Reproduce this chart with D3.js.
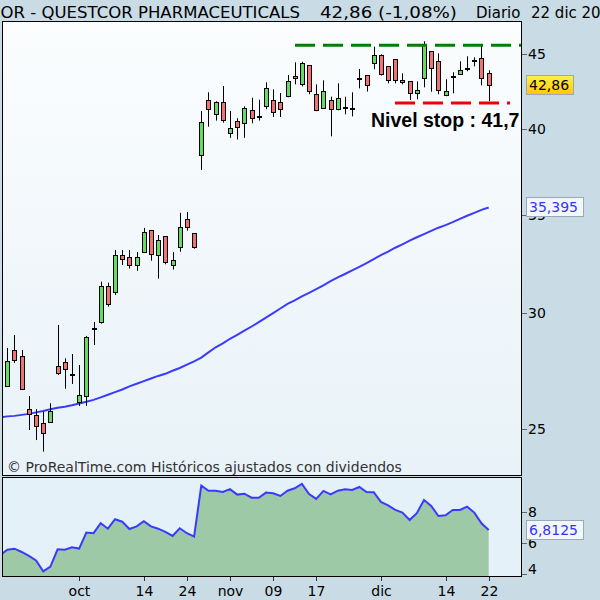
<!DOCTYPE html>
<html>
<head>
<meta charset="utf-8">
<script src="https://cdn.jsdelivr.net/npm/d3@7"></script>
<style>
body { margin: 0; background: #c9dbe5; }
svg text { font-family: "DejaVu Sans", Verdana, sans-serif; }
</style>
</head>
<body>
<script>
var w = 600;
var h = 600;

// trading days (first day only feeds the averages, its candle is off the left edge)
var dates = [
  "2011-09-16",
  "2011-09-19", "2011-09-20", "2011-09-21", "2011-09-22", "2011-09-23", "2011-09-26", "2011-09-27", "2011-09-28", "2011-09-29", "2011-09-30",
  "2011-10-03", "2011-10-04", "2011-10-05", "2011-10-06", "2011-10-07", "2011-10-10", "2011-10-11", "2011-10-12", "2011-10-13", "2011-10-14",
  "2011-10-17", "2011-10-18", "2011-10-19", "2011-10-20", "2011-10-21", "2011-10-24", "2011-10-25", "2011-10-26", "2011-10-27", "2011-10-28",
  "2011-10-31", "2011-11-01", "2011-11-02", "2011-11-03", "2011-11-04", "2011-11-07", "2011-11-08", "2011-11-09", "2011-11-10", "2011-11-11",
  "2011-11-14", "2011-11-15", "2011-11-16", "2011-11-17", "2011-11-18", "2011-11-21", "2011-11-22", "2011-11-23", "2011-11-25", "2011-11-28",
  "2011-11-29", "2011-11-30", "2011-12-01", "2011-12-02", "2011-12-05", "2011-12-06", "2011-12-07", "2011-12-08", "2011-12-09", "2011-12-12",
  "2011-12-13", "2011-12-14", "2011-12-15", "2011-12-16", "2011-12-19", "2011-12-20", "2011-12-21", "2011-12-22"
];

var open = [null,
  26.77, 28.31, 28.05, 25.80, 25.57, 25.24, 25.30, 27.59, 27.78, 27.25,
  26.10, 26.35, 29.32, 29.59, 31.30, 30.99, 32.84, 32.74, 32.31, 33.02,
  34.15, 32.82, 33.83, 32.31, 33.23, 34.75, 34.00, 38.39, 41.91, 40.96,
  41.74, 39.75, 40.52, 40.39, 41.22, 40.87, 41.46, 41.91, 41.74, 42.14,
  43.50, 42.93, 44.23, 42.27, 41.35, 41.91, 41.29, 41.42, 41.35, 43.36,
  43.54, 44.37, 44.95, 44.16, 44.65, 43.20, 43.13, 42.33, 43.34, 45.21,
  44.51, 42.20, 43.47, 43.61, 44.02, 44.58, 44.72, 43.70];
var high = [null,
  28.40, 28.98, 28.31, 26.34, 25.80, 25.70, 26.04, 29.44, 27.94, 28.13,
  27.65, 28.94, 29.58, 31.51, 31.46, 33.11, 33.11, 33.11, 33.01, 34.28,
  34.15, 33.90, 33.83, 33.00, 35.10, 35.15, 34.00, 41.18, 42.40, 41.81,
  42.82, 41.18, 40.71, 41.48, 42.04, 41.91, 43.07, 42.60, 42.35, 43.56,
  44.44, 44.48, 44.23, 42.93, 43.20, 42.11, 43.00, 42.11, 42.40, 43.98,
  43.54, 45.54, 45.00, 44.16, 44.65, 43.68, 43.13, 43.13, 45.93, 45.21,
  45.07, 43.27, 43.75, 44.51, 44.86, 44.79, 45.64, 43.89];
var low = [null,
  26.72, 27.74, 26.60, 24.97, 24.58, 24.14, 25.26, 27.22, 26.64, 26.84,
  25.93, 25.93, 28.53, 29.50, 30.30, 30.86, 32.34, 32.16, 32.05, 33.02,
  32.56, 31.66, 32.38, 32.11, 33.02, 34.13, 33.18, 37.54, 40.17, 40.56,
  40.43, 39.48, 39.38, 39.48, 40.39, 40.56, 41.29, 40.79, 40.79, 42.07,
  42.93, 42.79, 42.27, 41.16, 41.35, 39.57, 41.22, 40.96, 40.83, 42.66,
  42.45, 43.96, 43.53, 43.00, 43.00, 42.93, 41.89, 41.94, 42.73, 42.44,
  42.27, 42.14, 42.33, 43.61, 43.82, 44.16, 42.86, 41.81];
var close = [null,
  27.83, 27.86, 26.62, 25.60, 25.14, 24.86, 25.73, 27.27, 27.49, 27.25,
  26.37, 28.90, 29.32, 31.30, 30.44, 32.85, 32.61, 32.33, 32.74, 34.05,
  32.87, 33.62, 32.48, 32.58, 34.31, 34.31, 33.28, 40.45, 41.35, 41.74,
  40.56, 40.07, 40.13, 41.35, 40.71, 40.87, 42.66, 41.16, 41.28, 43.13,
  43.34, 44.37, 42.46, 41.22, 42.46, 41.35, 42.00, 41.42, 41.29, 43.36,
  42.86, 44.93, 43.63, 43.17, 43.20, 43.07, 42.33, 42.53, 45.64, 44.02,
  42.53, 42.46, 43.47, 43.89, 44.02, 44.58, 43.34, 42.86];

// 50 day moving average
var ma = [
  25.47, 25.51, 25.53, 25.57, 25.61, 25.67, 25.73, 25.80, 25.86, 25.90, 25.96,
  26.03, 26.10, 26.18, 26.28, 26.39, 26.50, 26.61, 26.74, 26.85, 26.96,
  27.07, 27.18, 27.27, 27.40, 27.52, 27.67, 27.81, 27.97, 28.20, 28.43,
  28.60, 28.81, 28.99, 29.18, 29.37, 29.57, 29.78, 29.99, 30.21, 30.43,
  30.60, 30.79, 30.96, 31.14, 31.33, 31.53, 31.72, 31.89, 32.07, 32.25,
  32.44, 32.64, 32.85, 33.03, 33.23, 33.41, 33.60, 33.78, 33.95, 34.12,
  34.29, 34.43, 34.59, 34.77, 34.94, 35.10, 35.26, 35.395];

// lower panel indicator
var ind = [
  5.20, 5.55, 5.61, 5.40, 5.15, 4.85, 4.15, 4.45, 5.57, 5.55, 5.70,
  5.62, 6.65, 6.61, 7.25, 6.90, 7.51, 7.35, 6.88, 7.05, 7.38,
  7.05, 6.90, 6.69, 6.43, 6.93, 6.61, 6.39, 9.68, 9.35, 9.34,
  9.27, 9.45, 9.10, 9.16, 8.90, 8.90, 9.23, 9.19, 9.01, 9.35,
  9.51, 9.79, 9.14, 8.82, 9.34, 9.12, 9.35, 9.45, 9.40, 9.59,
  9.27, 9.25, 8.63, 8.41, 8.11, 7.94, 7.46, 7.90, 8.75, 8.37,
  7.72, 7.77, 8.11, 8.11, 8.32, 7.94, 7.25, 6.8125];

var tickDates = ["2011-10-03", "2011-10-14", "2011-10-24", "2011-11-01", "2011-11-09", "2011-11-17", "2011-12-01", "2011-12-14", "2011-12-22"];
var tickLabels = ["oct", "14", "24", "nov", "09", "17", "dic", "14", "22"];
var priceTicks = [25, 30, 35, 40, 45];
var indTicks = [4, 6, 8];
var resistance = 45.65;
var stop = 41.7;
var lastPrice = "42,86";
var lastMa = "35,395";
var lastInd = "6,8125";

var main = { left: 3, right: 521, top: 22, bottom: 475 };
var low_p = { top: 478, bottom: 576 };

var svg = d3.select('body').append('svg').attr('width', w).attr('height', h);
var defs = svg.append('defs');

var bg = defs.append('linearGradient').attr('id', 'bg').attr('x1', 0).attr('y1', 0).attr('x2', 0).attr('y2', 1);
bg.append('stop').attr('offset', '0%').attr('stop-color', '#fbfdfe');
bg.append('stop').attr('offset', '100%').attr('stop-color', '#e8f2f8');

var gold = defs.append('linearGradient').attr('id', 'gold').attr('x1', 0).attr('y1', 0).attr('x2', 0).attr('y2', 1);
gold.append('stop').attr('offset', '0%').attr('stop-color', '#fff04a');
gold.append('stop').attr('offset', '100%').attr('stop-color', '#ffc800');

defs.append('clipPath').attr('id', 'clipMain').append('rect')
  .attr('x', main.left).attr('y', main.top)
  .attr('width', main.right - main.left).attr('height', main.bottom - main.top);
defs.append('clipPath').attr('id', 'clipLow').append('rect')
  .attr('x', main.left).attr('y', low_p.top)
  .attr('width', main.right - main.left).attr('height', low_p.bottom - low_p.top);

// scales
var x = d3.scaleLinear().domain([0.4, 72.5]).range([main.left, main.right]);
var y = d3.scaleLog().domain([23.27, 47.34]).range([main.bottom, main.top]);
var y2 = d3.scaleLinear().domain([3.85, 10.17]).range([low_p.bottom, low_p.top]);

// title (runs past both edges like the original)
var title = svg.append('g').style('font-size', '15px').attr('fill', '#000');
title.append('text').attr('x', -24).attr('y', 18).attr('textLength', 324).attr('lengthAdjust', 'spacingAndGlyphs')
  .text('QCOR - QUESTCOR PHARMACEUTICALS');
title.append('text').attr('x', 320).attr('y', 18).attr('textLength', 137).attr('lengthAdjust', 'spacingAndGlyphs')
  .text('42,86 (-1,08%)');
title.append('text').attr('x', 476).attr('y', 18).text('Diario');
title.append('text').attr('x', 531).attr('y', 18).text('22 dic 2011');

// panels
svg.append('rect').attr('x', main.left).attr('y', main.top)
  .attr('width', main.right - main.left).attr('height', main.bottom - main.top)
  .attr('fill', 'url(#bg)');
svg.append('rect').attr('x', main.left).attr('y', low_p.top)
  .attr('width', main.right - main.left).attr('height', low_p.bottom - low_p.top)
  .attr('fill', '#e5f1f8');

var g = svg.append('g').attr('clip-path', 'url(#clipMain)');

// moving average
var maLine = d3.line()
  .x(function (d, i) { return x(i); })
  .y(function (d) { return y(d); });
g.append('path').datum(ma).attr('d', maLine)
  .attr('fill', 'none').attr('stroke', '#3a3aff').attr('stroke-width', 2);

// candles
var idx = d3.range(dates.length).filter(function (i) { return open[i] != null; });
var candles = g.selectAll('g.candle').data(idx).enter().append('g').attr('class', 'candle');
candles.append('line')
  .attr('x1', function (i) { return Math.round(x(i)) + 0.5; })
  .attr('x2', function (i) { return Math.round(x(i)) + 0.5; })
  .attr('y1', function (i) { return y(high[i]); })
  .attr('y2', function (i) { return y(low[i]); })
  .attr('stroke', '#000').attr('stroke-width', 1);
candles.append('rect')
  .attr('x', function (i) { return Math.round(x(i)) - 1.5; })
  .attr('width', 4)
  .attr('y', function (i) { return Math.round(y(Math.max(open[i], close[i]))) + 0.5; })
  .attr('height', function (i) { return Math.max(1, Math.round(Math.abs(y(open[i]) - y(close[i])))); })
  .attr('fill', function (i) {
    if (Math.abs(open[i] - close[i]) < 0.08) return '#000';
    return close[i] > open[i] ? '#63dc63' : '#f07272';
  })
  .attr('stroke', '#000').attr('stroke-width', 1);

// resistance and stop lines
g.append('line').attr('x1', 295).attr('x2', main.right)
  .attr('y1', y(resistance)).attr('y2', y(resistance))
  .attr('stroke', '#008000').attr('stroke-width', 3).attr('stroke-dasharray', '20,8');
g.append('line').attr('x1', 395).attr('x2', 510)
  .attr('y1', y(stop)).attr('y2', y(stop))
  .attr('stroke', '#f00000').attr('stroke-width', 3).attr('stroke-dasharray', '20,8');
g.append('text').attr('x', 371).attr('y', 127)
  .style('font-family', '"Liberation Sans", Arial, sans-serif')
  .style('font-size', '19.5px').style('font-weight', 'bold')
  .text('Nivel stop : 41,7');

g.append('text').attr('x', 7).attr('y', 472).attr('fill', '#333')
  .style('font-size', '14px')
  .text('© ProRealTime.com Históricos ajustados con dividendos');

svg.append('rect').attr('x', main.left - 0.5).attr('y', main.top - 0.5)
  .attr('width', main.right - main.left + 1).attr('height', main.bottom - main.top + 1)
  .attr('fill', 'none').attr('stroke', '#000');

// price axis
var ax = svg.append('g').style('font-size', '14px');
ax.selectAll('line.pt').data(priceTicks).enter().append('line')
  .attr('x1', main.right + 1).attr('x2', main.right + 6)
  .attr('y1', function (d) { return Math.round(y(d)) + 0.5; })
  .attr('y2', function (d) { return Math.round(y(d)) + 0.5; })
  .attr('stroke', '#666');
ax.selectAll('text.pt').data(priceTicks).enter().append('text')
  .attr('x', 528).attr('y', function (d) { return y(d) + 5; })
  .text(function (d) { return d; });

// last value boxes
function valueBox(val, label, fill, color, scale) {
  var yy = scale(val);
  var bw = label.length > 5 ? 57 : 47;
  svg.append('rect').attr('x', 526.5).attr('y', Math.round(yy) - 9.5)
    .attr('width', bw).attr('height', 19)
    .attr('fill', fill).attr('stroke', '#9aaab4');
  svg.append('text').attr('x', 529).attr('y', yy + 5)
    .style('font-size', '14px').attr('fill', color).text(label);
}
valueBox(42.86, lastPrice, 'url(#gold)', '#000', y);
valueBox(35.395, lastMa, '#f2f7fb', '#3333ff', y);

// lower panel
var g2 = svg.append('g').attr('clip-path', 'url(#clipLow)');
var area = d3.area()
  .x(function (d, i) { return x(i); })
  .y0(low_p.bottom)
  .y1(function (d) { return y2(d); });
g2.append('path').datum(ind).attr('d', area).attr('fill', '#9dc9a7');
g2.append('path').datum(ind).attr('d', d3.line()
  .x(function (d, i) { return x(i); })
  .y(function (d) { return y2(d); }))
  .attr('fill', 'none').attr('stroke', '#3a3aff').attr('stroke-width', 2);

svg.append('rect').attr('x', main.left - 0.5).attr('y', low_p.top - 0.5)
  .attr('width', main.right - main.left + 1).attr('height', low_p.bottom - low_p.top + 1)
  .attr('fill', 'none').attr('stroke', '#000');

var ax2 = svg.append('g').style('font-size', '14px');
ax2.selectAll('line').data(indTicks).enter().append('line')
  .attr('x1', main.right + 1).attr('x2', main.right + 6)
  .attr('y1', function (d) { return Math.round(y2(d)) + 0.5; })
  .attr('y2', function (d) { return Math.round(y2(d)) + 0.5; })
  .attr('stroke', '#666');
ax2.selectAll('text').data(indTicks).enter().append('text')
  .attr('x', 528).attr('y', function (d) { return Math.min(y2(d), low_p.bottom - 7) + 5; })
  .text(function (d) { return d; });
valueBox(6.8125, lastInd, '#f2f7fb', '#3333ff', y2);

// time axis
var tx = svg.append('g').style('font-size', '14px');
tickDates.forEach(function (d, k) {
  var xx = Math.round(x(dates.indexOf(d))) + 0.5;
  tx.append('line').attr('x1', xx).attr('x2', xx).attr('y1', low_p.bottom + 1).attr('y2', low_p.bottom + 5)
    .attr('stroke', '#333');
  tx.append('text').attr('x', xx).attr('y', 596).attr('text-anchor', 'middle').text(tickLabels[k]);
});
</script>
</body>
</html>
